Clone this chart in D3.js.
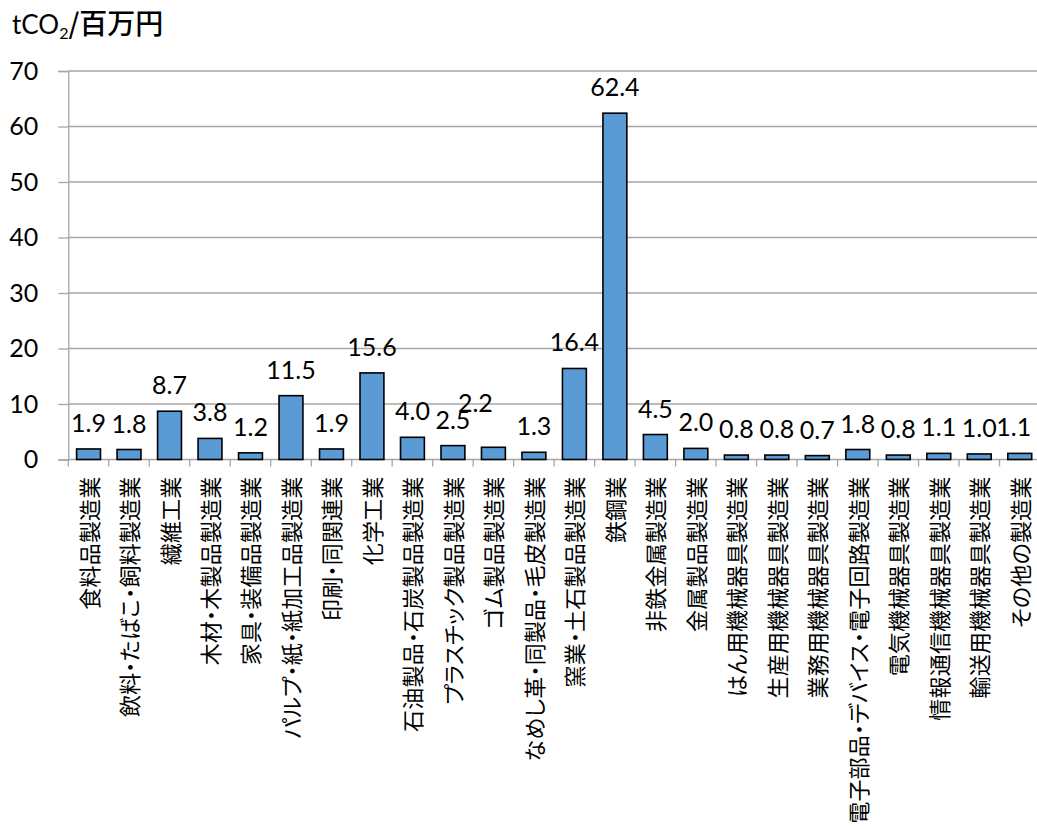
<!DOCTYPE html>
<html lang="ja">
<head>
<meta charset="utf-8">
<script src="https://cdn.jsdelivr.net/npm/d3@7"></script>
<style>
  html, body { margin: 0; padding: 0; background: #fff; }
  svg { display: block; }
  .num { font-family: Lato, "Open Sans", sans-serif; fill: #000; }
  .jp { font-family: "Noto Sans CJK JP", sans-serif; fill: #000; }
  .cat { font-feature-settings: "palt"; letter-spacing: 0.2px; }
</style>
</head>
<body>
<svg id="chart" width="1037" height="829"></svg>
<script>
// CO2 emission intensity by manufacturing sector (tCO2 per million yen)
const categories = [
  "食料品製造業", "飲料・たばこ・飼料製造業", "繊維工業", "木材・木製品製造業",
  "家具・装備品製造業", "パルプ・紙・紙加工品製造業", "印刷・同関連業", "化学工業",
  "石油製品・石炭製品製造業", "プラスチック製品製造業", "ゴム製品製造業",
  "なめし革・同製品・毛皮製造業", "窯業・土石製品製造業", "鉄鋼業", "非鉄金属製造業",
  "金属製品製造業", "はん用機械器具製造業", "生産用機械器具製造業", "業務用機械器具製造業",
  "電子部品・デバイス・電子回路製造業", "電気機械器具製造業", "情報通信機械器具製造業",
  "輸送用機械器具製造業", "その他の製造業"
];
const values = [
  1.9, 1.8, 8.7, 3.8, 1.2, 11.5, 1.9, 15.6, 4.0, 2.5, 2.2, 1.3,
  16.4, 62.4, 4.5, 2.0, 0.8, 0.8, 0.7, 1.8, 0.8, 1.1, 1.0, 1.1
];
const yTicks = [0, 10, 20, 30, 40, 50, 60, 70];

// label nudges (dx, dy) to keep crowded value labels readable
const labelNudge = { 10: [-18, -18], 23: [-6, 0] };

const svg = d3.select("#chart");
const plot = { left: 68.3, right: 1040, top: 71, bottom: 459.5 };

const x = d3.scaleBand()
  .domain(d3.range(categories.length))
  .range([plot.left, plot.right])
  .paddingInner(0.41)
  .paddingOuter(0.205);

const y = d3.scaleLinear().domain([0, 70]).range([plot.bottom, plot.top]);

// horizontal gridlines
svg.append("g")
  .selectAll("line")
  .data(yTicks.filter(d => d > 0))
  .join("line")
  .attr("x1", plot.left).attr("x2", plot.right)
  .attr("y1", d => y(d)).attr("y2", d => y(d))
  .attr("stroke", "#a6a6a6").attr("stroke-width", 1.3);

// y axis
const yAxis = svg.append("g")
  .attr("transform", `translate(${plot.left},0)`)
  .call(d3.axisLeft(y).tickValues(yTicks).tickSize(10).tickPadding(20));
yAxis.select(".domain").attr("stroke", "#a6a6a6").attr("stroke-width", 1.3);
yAxis.selectAll(".tick line").attr("stroke", "#a6a6a6").attr("stroke-width", 1.3);
yAxis.selectAll(".tick text")
  .attr("class", "num")
  .attr("font-size", 25)
  .attr("fill", "#000");

// x axis (category boundaries as ticks)
const xAxisG = svg.append("g");
xAxisG.append("line")
  .attr("x1", plot.left).attr("x2", plot.right)
  .attr("y1", plot.bottom).attr("y2", plot.bottom)
  .attr("stroke", "#a6a6a6").attr("stroke-width", 1.3);
const step = x.step();
xAxisG.selectAll("line.tk")
  .data(d3.range(categories.length + 1))
  .join("line")
  .attr("class", "tk")
  .attr("x1", i => plot.left + i * step).attr("x2", i => plot.left + i * step)
  .attr("y1", plot.bottom).attr("y2", plot.bottom + 7)
  .attr("stroke", "#a6a6a6").attr("stroke-width", 1.3);

// category labels, rotated to read bottom-to-top
svg.append("g")
  .selectAll("text")
  .data(categories)
  .join("text")
  .attr("class", "jp cat")
  .attr("font-size", 22)
  .attr("text-anchor", "end")
  .attr("dominant-baseline", "central")
  .attr("transform", (d, i) => `translate(${x(i) + x.bandwidth() / 2 - 1},${plot.bottom + 17}) rotate(-90)`)
  .text(d => d);

// bars
svg.append("g")
  .selectAll("rect")
  .data(values)
  .join("rect")
  .attr("x", (d, i) => x(i))
  .attr("width", x.bandwidth())
  .attr("y", d => y(d))
  .attr("height", d => y(0) - y(d))
  .attr("fill", "#5b9bd5")
  .attr("stroke", "#000")
  .attr("stroke-width", 1.6);

// value labels
svg.append("g")
  .selectAll("text")
  .data(values)
  .join("text")
  .attr("class", "num")
  .attr("font-size", 25)
  .attr("text-anchor", "middle")
  .attr("x", (d, i) => x(i) + x.bandwidth() / 2 + (labelNudge[i] ? labelNudge[i][0] : 0))
  .attr("y", (d, i) => y(d) - 17 + (labelNudge[i] ? labelNudge[i][1] : 0))
  .text(d => d.toFixed(1));

// unit title
const title = svg.append("text")
  .attr("x", 12).attr("y", 34);
title.append("tspan").attr("class", "num").attr("font-size", 26).text("tCO");
title.append("tspan").attr("class", "num").attr("font-size", 16).attr("dy", 5).text("2");
title.append("tspan").attr("class", "jp").attr("font-size", 28).attr("font-weight", 500).attr("dy", -5).text("/百万円");
</script>
</body>
</html>
